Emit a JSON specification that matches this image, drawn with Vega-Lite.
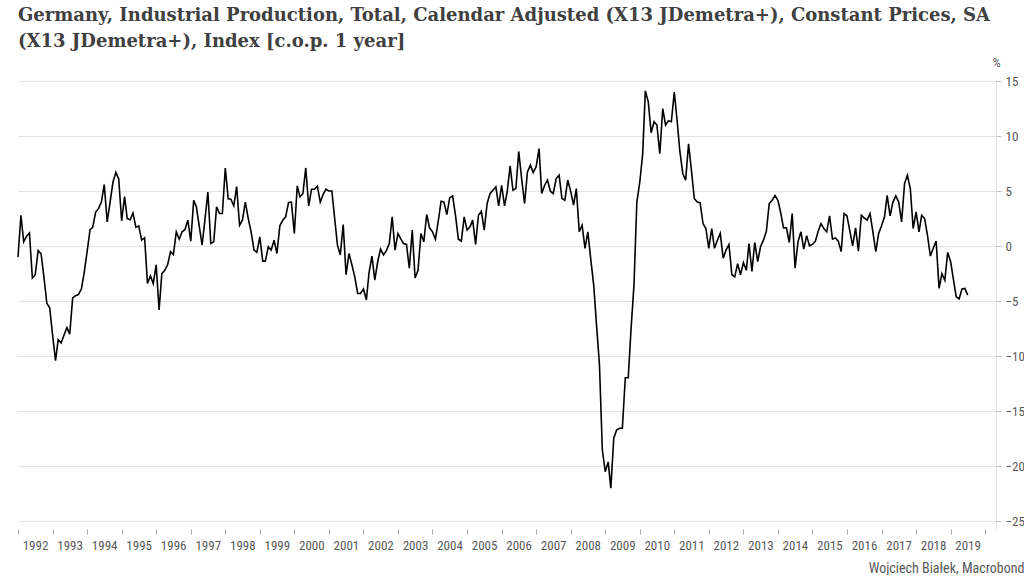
{
  "$schema": "https://vega.github.io/schema/vega-lite/v6.json",
  "width": 978,
  "height": 448,
  "padding": {"left": 14, "top": 7, "right": 0, "bottom": 0},
  "autosize": {"type": "pad"},
  "background": "white",
  "title": {
    "text": ["Germany, Industrial Production, Total, Calendar Adjusted (X13 JDemetra+), Constant Prices, SA", "(X13 JDemetra+), Index [c.o.p. 1 year]"],
    "anchor": "start",
    "font": "DejaVu Serif",
    "fontSize": 18,
    "fontWeight": "bold",
    "color": "#404040",
    "lineHeight": 26,
    "offset": 5,
    "frame": "group"
  },
  "config": {
    "view": {"stroke": null},
    "axis": {"labelFont": "Liberation Sans Narrow, Roboto Condensed, Liberation Sans", "titleFont": "Liberation Sans Narrow, Roboto Condensed, Liberation Sans"}
  },
  "data": {"values": [
    {"d":"1992-01","v":-1.0},{"d":"1992-02","v":2.8},{"d":"1992-03","v":0.4},{"d":"1992-04","v":0.9},{"d":"1992-05","v":1.2},{"d":"1992-06","v":-2.9},{"d":"1992-07","v":-2.6},{"d":"1992-08","v":-0.4},{"d":"1992-09","v":-0.7},{"d":"1992-10","v":-2.8},{"d":"1992-11","v":-5.2},{"d":"1992-12","v":-5.6},
    {"d":"1993-01","v":-8.1},{"d":"1993-02","v":-10.4},{"d":"1993-03","v":-8.5},{"d":"1993-04","v":-8.8},{"d":"1993-05","v":-8.1},{"d":"1993-06","v":-7.4},{"d":"1993-07","v":-8.0},{"d":"1993-08","v":-4.7},{"d":"1993-09","v":-4.5},{"d":"1993-10","v":-4.4},{"d":"1993-11","v":-3.9},{"d":"1993-12","v":-2.4},
    {"d":"1994-01","v":-0.5},{"d":"1994-02","v":1.5},{"d":"1994-03","v":1.7},{"d":"1994-04","v":3.1},{"d":"1994-05","v":3.4},{"d":"1994-06","v":4.0},{"d":"1994-07","v":5.6},{"d":"1994-08","v":2.2},{"d":"1994-09","v":4.0},{"d":"1994-10","v":5.8},{"d":"1994-11","v":6.7},{"d":"1994-12","v":6.1},
    {"d":"1995-01","v":2.3},{"d":"1995-02","v":4.5},{"d":"1995-03","v":2.5},{"d":"1995-04","v":2.4},{"d":"1995-05","v":3.0},{"d":"1995-06","v":1.7},{"d":"1995-07","v":1.84},{"d":"1995-08","v":0.54},{"d":"1995-09","v":0.75},{"d":"1995-10","v":-3.4},{"d":"1995-11","v":-2.7},{"d":"1995-12","v":-3.4},
    {"d":"1996-01","v":-1.7},{"d":"1996-02","v":-5.8},{"d":"1996-03","v":-2.5},{"d":"1996-04","v":-2.2},{"d":"1996-05","v":-1.7},{"d":"1996-06","v":-0.5},{"d":"1996-07","v":-0.77},{"d":"1996-08","v":1.3},{"d":"1996-09","v":0.63},{"d":"1996-10","v":1.3},{"d":"1996-11","v":1.5},{"d":"1996-12","v":2.36},
    {"d":"1997-01","v":0.45},{"d":"1997-02","v":4.17},{"d":"1997-03","v":3.57},{"d":"1997-04","v":1.8},{"d":"1997-05","v":0.1},{"d":"1997-06","v":2.5},{"d":"1997-07","v":4.9},{"d":"1997-08","v":0.24},{"d":"1997-09","v":0.39},{"d":"1997-10","v":3.56},{"d":"1997-11","v":2.96},{"d":"1997-12","v":2.96},
    {"d":"1998-01","v":7.1},{"d":"1998-02","v":4.3},{"d":"1998-03","v":4.26},{"d":"1998-04","v":3.66},{"d":"1998-05","v":5.4},{"d":"1998-06","v":1.9},{"d":"1998-07","v":2.36},{"d":"1998-08","v":4.0},{"d":"1998-09","v":2.5},{"d":"1998-10","v":1.3},{"d":"1998-11","v":-0.36},{"d":"1998-12","v":-0.57},
    {"d":"1999-01","v":0.84},{"d":"1999-02","v":-1.36},{"d":"1999-03","v":-1.36},{"d":"1999-04","v":-0.06},{"d":"1999-05","v":-0.36},{"d":"1999-06","v":0.54},{"d":"1999-07","v":-0.67},{"d":"1999-08","v":1.84},{"d":"1999-09","v":2.36},{"d":"1999-10","v":2.66},{"d":"1999-11","v":3.96},{"d":"1999-12","v":4.0},
    {"d":"2000-01","v":1.15},{"d":"2000-02","v":5.47},{"d":"2000-03","v":4.47},{"d":"2000-04","v":4.78},{"d":"2000-05","v":7.1},{"d":"2000-06","v":3.66},{"d":"2000-07","v":5.17},{"d":"2000-08","v":5.17},{"d":"2000-09","v":5.44},{"d":"2000-10","v":4.0},{"d":"2000-11","v":4.7},{"d":"2000-12","v":5.17},
    {"d":"2001-01","v":5.0},{"d":"2001-02","v":5.0},{"d":"2001-03","v":2.66},{"d":"2001-04","v":0.09},{"d":"2001-05","v":-0.8},{"d":"2001-06","v":1.96},{"d":"2001-07","v":-2.6},{"d":"2001-08","v":-0.67},{"d":"2001-09","v":-1.7},{"d":"2001-10","v":-2.8},{"d":"2001-11","v":-4.3},{"d":"2001-12","v":-4.3},
    {"d":"2002-01","v":-3.9},{"d":"2002-02","v":-4.9},{"d":"2002-03","v":-2.4},{"d":"2002-04","v":-0.9},{"d":"2002-05","v":-3.1},{"d":"2002-06","v":-1.4},{"d":"2002-07","v":-0.27},{"d":"2002-08","v":-0.8},{"d":"2002-09","v":-0.4},{"d":"2002-10","v":0.24},{"d":"2002-11","v":2.66},{"d":"2002-12","v":-0.36},
    {"d":"2003-01","v":1.15},{"d":"2003-02","v":0.63},{"d":"2003-03","v":0.24},{"d":"2003-04","v":0.15},{"d":"2003-05","v":-2.0},{"d":"2003-06","v":1.45},{"d":"2003-07","v":-2.9},{"d":"2003-08","v":-2.2},{"d":"2003-09","v":1.15},{"d":"2003-10","v":0.39},{"d":"2003-11","v":2.87},{"d":"2003-12","v":1.66},
    {"d":"2004-01","v":1.3},{"d":"2004-02","v":0.63},{"d":"2004-03","v":2.2},{"d":"2004-04","v":4.08},{"d":"2004-05","v":4.0},{"d":"2004-06","v":2.87},{"d":"2004-07","v":4.38},{"d":"2004-08","v":4.56},{"d":"2004-09","v":2.75},{"d":"2004-10","v":0.63},{"d":"2004-11","v":0.45},{"d":"2004-12","v":2.66},
    {"d":"2005-01","v":1.45},{"d":"2005-02","v":1.75},{"d":"2005-03","v":2.36},{"d":"2005-04","v":0.15},{"d":"2005-05","v":2.8},{"d":"2005-06","v":3.17},{"d":"2005-07","v":1.45},{"d":"2005-08","v":3.87},{"d":"2005-09","v":4.78},{"d":"2005-10","v":5.08},{"d":"2005-11","v":5.38},{"d":"2005-12","v":3.66},
    {"d":"2006-01","v":5.53},{"d":"2006-02","v":3.66},{"d":"2006-03","v":4.93},{"d":"2006-04","v":7.29},{"d":"2006-05","v":5.08},{"d":"2006-06","v":5.23},{"d":"2006-07","v":8.6},{"d":"2006-08","v":6.1},{"d":"2006-09","v":3.87},{"d":"2006-10","v":6.74},{"d":"2006-11","v":7.35},{"d":"2006-12","v":6.68},
    {"d":"2007-01","v":7.2},{"d":"2007-02","v":8.86},{"d":"2007-03","v":4.78},{"d":"2007-04","v":5.53},{"d":"2007-05","v":6.0},{"d":"2007-06","v":4.99},{"d":"2007-07","v":4.78},{"d":"2007-08","v":6.14},{"d":"2007-09","v":6.44},{"d":"2007-10","v":4.32},{"d":"2007-11","v":4.17},{"d":"2007-12","v":6.0},
    {"d":"2008-01","v":5.0},{"d":"2008-02","v":3.72},{"d":"2008-03","v":5.23},{"d":"2008-04","v":1.3},{"d":"2008-05","v":1.9},{"d":"2008-06","v":-0.2},{"d":"2008-07","v":1.3},{"d":"2008-08","v":-1.2},{"d":"2008-09","v":-3.55},{"d":"2008-10","v":-7.2},{"d":"2008-11","v":-10.8},{"d":"2008-12","v":-18.5},
    {"d":"2009-01","v":-20.5},{"d":"2009-02","v":-19.6},{"d":"2009-03","v":-22.0},{"d":"2009-04","v":-17.45},{"d":"2009-05","v":-16.7},{"d":"2009-06","v":-16.55},{"d":"2009-07","v":-16.55},{"d":"2009-08","v":-11.96},{"d":"2009-09","v":-11.96},{"d":"2009-10","v":-7.5},{"d":"2009-11","v":-3.5},{"d":"2009-12","v":4.0},
    {"d":"2010-01","v":5.8},{"d":"2010-02","v":8.4},{"d":"2010-03","v":14.1},{"d":"2010-04","v":13.1},{"d":"2010-05","v":10.3},{"d":"2010-06","v":11.3},{"d":"2010-07","v":11.0},{"d":"2010-08","v":8.4},{"d":"2010-09","v":12.5},{"d":"2010-10","v":11.0},{"d":"2010-11","v":11.4},{"d":"2010-12","v":11.3},
    {"d":"2011-01","v":14.0},{"d":"2011-02","v":11.3},{"d":"2011-03","v":8.6},{"d":"2011-04","v":6.6},{"d":"2011-05","v":6.0},{"d":"2011-06","v":9.3},{"d":"2011-07","v":6.9},{"d":"2011-08","v":4.3},{"d":"2011-09","v":4.0},{"d":"2011-10","v":3.95},{"d":"2011-11","v":2.05},{"d":"2011-12","v":1.6},
    {"d":"2012-01","v":-0.2},{"d":"2012-02","v":1.6},{"d":"2012-03","v":-0.2},{"d":"2012-04","v":0.54},{"d":"2012-05","v":1.15},{"d":"2012-06","v":-1.1},{"d":"2012-07","v":-0.36},{"d":"2012-08","v":0.15},{"d":"2012-09","v":-2.6},{"d":"2012-10","v":-2.8},{"d":"2012-11","v":-1.6},{"d":"2012-12","v":-2.6},
    {"d":"2013-01","v":-1.5},{"d":"2013-02","v":-2.2},{"d":"2013-03","v":0.24},{"d":"2013-04","v":-2.3},{"d":"2013-05","v":0.33},{"d":"2013-06","v":-1.4},{"d":"2013-07","v":-0.06},{"d":"2013-08","v":0.54},{"d":"2013-09","v":1.36},{"d":"2013-10","v":3.87},{"d":"2013-11","v":4.17},{"d":"2013-12","v":4.6},
    {"d":"2014-01","v":4.17},{"d":"2014-02","v":2.96},{"d":"2014-03","v":1.66},{"d":"2014-04","v":1.66},{"d":"2014-05","v":0.33},{"d":"2014-06","v":2.96},{"d":"2014-07","v":-2.0},{"d":"2014-08","v":0.39},{"d":"2014-09","v":1.3},{"d":"2014-10","v":-0.27},{"d":"2014-11","v":0.94},{"d":"2014-12","v":0.03},
    {"d":"2015-01","v":0.15},{"d":"2015-02","v":0.45},{"d":"2015-03","v":1.3},{"d":"2015-04","v":2.05},{"d":"2015-05","v":1.6},{"d":"2015-06","v":1.3},{"d":"2015-07","v":2.75},{"d":"2015-08","v":0.63},{"d":"2015-09","v":0.75},{"d":"2015-10","v":0.45},{"d":"2015-11","v":-0.5},{"d":"2015-12","v":2.96},
    {"d":"2016-01","v":2.75},{"d":"2016-02","v":1.36},{"d":"2016-03","v":0.03},{"d":"2016-04","v":1.66},{"d":"2016-05","v":-0.45},{"d":"2016-06","v":2.8},{"d":"2016-07","v":2.57},{"d":"2016-08","v":2.36},{"d":"2016-09","v":2.96},{"d":"2016-10","v":1.3},{"d":"2016-11","v":-0.5},{"d":"2016-12","v":1.15},
    {"d":"2017-01","v":1.84},{"d":"2017-02","v":2.66},{"d":"2017-03","v":4.6},{"d":"2017-04","v":2.75},{"d":"2017-05","v":4.0},{"d":"2017-06","v":4.56},{"d":"2017-07","v":4.0},{"d":"2017-08","v":2.2},{"d":"2017-09","v":5.68},{"d":"2017-10","v":6.44},{"d":"2017-11","v":5.23},{"d":"2017-12","v":1.6},
    {"d":"2018-01","v":3.11},{"d":"2018-02","v":1.3},{"d":"2018-03","v":2.8},{"d":"2018-04","v":2.5},{"d":"2018-05","v":1.0},{"d":"2018-06","v":-0.9},{"d":"2018-07","v":-0.2},{"d":"2018-08","v":0.45},{"d":"2018-09","v":-3.84},{"d":"2018-10","v":-2.5},{"d":"2018-11","v":-3.1},{"d":"2018-12","v":-0.57},
    {"d":"2019-01","v":-1.4},{"d":"2019-02","v":-3.1},{"d":"2019-03","v":-4.6},{"d":"2019-04","v":-4.8},{"d":"2019-05","v":-3.9},{"d":"2019-06","v":-3.84},{"d":"2019-07","v":-4.45}
  ]},
  "mark": {"type": "line", "color": "#000000", "strokeWidth": 1.6},
  "encoding": {
    "x": {
      "field": "d",
      "type": "temporal",
      "scale": {"type": "utc", "domain": [{"year": 1992, "month": 1, "date": 1, "utc": true}, {"year": 2020, "month": 4, "date": 25, "utc": true}]},
      "axis": {
        "orient": "bottom",
        "format": "%Y",
        "tickCount": {"interval": "year", "step": 1},
        "labelExpr": "datum.label == '2020' ? '' : datum.label",
        "labelOffset": 17,
        "labelAlign": "center",
        "labelPadding": 5,
        "labelFontSize": 13,
        "labelColor": "#595959",
        "labelFlush": false,
        "labelOverlap": false,
        "tickSize": 5,
        "tickColor": "#a6a6a6",
        "domain": false,
        "grid": false,
        "title": "Wojciech Białek, Macrobond",
        "titleAnchor": "end",
        "titleAlign": "right",
        "titleBaseline": "alphabetic",
        "titleX": 1006,
        "titleY": 43,
        "titleFontSize": 14,
        "titleFontWeight": "normal",
        "titleColor": "#595959"
      }
    },
    "y": {
      "field": "v",
      "type": "quantitative",
      "scale": {"domain": [-25.7, 15], "nice": false, "zero": false},
      "axis": {
        "orient": "right",
        "values": [-25, -20, -15, -10, -5, 0, 5, 10, 15],
        "grid": true,
        "gridColor": "#e3e3e3",
        "domain": true,
        "domainColor": "#e3e3e3",
        "tickSize": 5,
        "tickColor": "#bfbfbf",
        "labelPadding": 4,
        "labelFontSize": 13,
        "labelColor": "#595959",
        "title": "%",
        "titleAngle": 0,
        "titleAnchor": "end",
        "titleAlign": "center",
        "titleBaseline": "alphabetic",
        "titleX": 0,
        "titleY": -15,
        "titleFontSize": 13,
        "titleFontWeight": "normal",
        "titleColor": "#595959"
      }
    }
  }
}
